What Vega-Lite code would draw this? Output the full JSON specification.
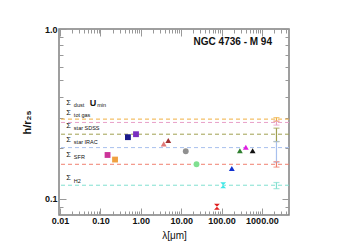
{
  "$schema": "https://vega.github.io/schema/vega-lite/v6.json",
  "width": 230,
  "height": 186,
  "autosize": "none",
  "padding": {"left": 59, "top": 29, "right": 58, "bottom": 30},
  "background": "white",
  "config": {
    "view": {"stroke": "#808080", "strokeWidth": 1.5},
    "font": "Liberation Sans",
    "axis": {
      "domain": false,
      "grid": false,
      "tickColor": "#999999",
      "tickWidth": 1,
      "labelFont": "Liberation Sans",
      "labelFontWeight": "bold",
      "labelFontSize": 9,
      "labelColor": "#111111",
      "labelOverlap": false,
      "labelFlush": false,
      "labelBound": false,
      "titleFont": "Liberation Sans",
      "titleColor": "#111111"
    }
  },
  "datasets": {
    "points": [
      {"band": "FUV", "inst": "galex", "lambda": 0.15, "h": 0.1815},
      {"band": "NUV", "inst": "galex", "lambda": 0.23, "h": 0.1706},
      {"band": "g", "inst": "sdss", "lambda": 0.48, "h": 0.231},
      {"band": "r", "inst": "sdss", "lambda": 0.76, "h": 0.2405},
      {"band": "I3.6", "inst": "irac", "lambda": 3.7, "h": 0.211},
      {"band": "I4.5", "inst": "irac", "lambda": 4.8, "h": 0.221},
      {"band": "W12", "inst": "wise", "lambda": 13, "h": 0.191},
      {"band": "M24", "inst": "wise", "lambda": 24, "h": 0.160},
      {"band": "P70", "inst": "pacs", "lambda": 77, "h": 0.090},
      {"band": "P100", "inst": "pacs", "lambda": 110, "h": 0.1205},
      {"band": "P160", "inst": "spire", "lambda": 180, "h": 0.151},
      {"band": "S250", "inst": "spire", "lambda": 285, "h": 0.192},
      {"band": "S350", "inst": "spire", "lambda": 400, "h": 0.2015},
      {"band": "S500", "inst": "spire", "lambda": 590, "h": 0.192}
    ],
    "tracers": [
      {"band": "dust", "h": 0.295, "lo": 0.286, "hi": 0.301, "lambda": 2300},
      {"band": "totgas", "h": 0.282, "lo": 0.272, "hi": 0.288, "lambda": 2300},
      {"band": "starSDSS", "h": 0.2405, "lo": 0.2175, "hi": 0.261, "lambda": 2300},
      {"band": "starIRAC", "h": 0.2006, "lo": 0.164, "hi": 0.218, "lambda": 2300},
      {"band": "SFR", "h": 0.160, "lo": 0.154, "hi": 0.166, "lambda": 2300},
      {"band": "H2", "h": 0.1205, "lo": 0.115, "hi": 0.125, "lambda": 2300}
    ],
    "labels": [
      {"main": "Σ", "sub": "dust", "lambda": 0.0143, "h": 0.368},
      {"main": "U", "sub": "min", "lambda": 0.054, "h": 0.368},
      {"main": "Σ", "sub": "tot gas", "lambda": 0.0143, "h": 0.322},
      {"main": "Σ", "sub": "star SDSS", "lambda": 0.0143, "h": 0.269},
      {"main": "Σ", "sub": "star IRAC", "lambda": 0.0143, "h": 0.223},
      {"main": "Σ", "sub": "SFR", "lambda": 0.0143, "h": 0.1817},
      {"main": "Σ", "sub": "H2", "lambda": 0.0143, "h": 0.1324}
    ],
    "title": [
      {"text": "NGC 4736 - M 94", "lambda": 1780, "h": 0.834}
    ]
  },
  "layer": [
    {
      "data": {"name": "tracers"},
      "mark": {"type": "rule", "strokeDash": [4, 3], "strokeWidth": 1},
      "encoding": {
        "y": {"field": "h", "type": "quantitative",
          "scale": {"type": "log", "domain": [0.0805, 1.0], "nice": false},
          "axis": {"orient": "right", "labels": false, "title": null,
            "values": [0.09, 0.1, 0.2, 0.3, 0.4, 0.5, 0.6, 0.7, 0.8, 0.9, 1.0],
            "tickSize": {"condition": {"test": "abs(log(datum.value)/LN10 - round(log(datum.value)/LN10)) < 0.001", "value": -7}, "value": -4}}},
        "color": {"field": "band", "type": "nominal", "legend": null,
          "scale": {
            "domain": ["FUV", "NUV", "g", "r", "I3.6", "I4.5", "W12", "M24", "P70", "P100", "P160", "S250", "S350", "S500", "dust", "totgas", "starSDSS", "starIRAC", "SFR", "H2"],
            "range": ["#cc3399", "#f0a040", "#1a1a8c", "#7a30c0", "#e07878", "#a03030", "#909090", "#80e090", "#e02020", "#40e8e8", "#1030d0", "#308030", "#e020e0", "#101010", "#f0b040", "#e8a0c8", "#a0a050", "#a8c0ee", "#f08070", "#80e0d0"]
          }}
      }
    },
    {
      "data": {"name": "tracers"},
      "mark": {"type": "errorbar", "ticks": {"size": 6}, "thickness": 1.2},
      "encoding": {
        "x": {"field": "lambda", "type": "quantitative",
          "scale": {"type": "log", "domain": [0.0094, 4700], "nice": false},
          "axis": {"orient": "top", "labels": false, "title": null,
            "values": [0.01, 0.02, 0.03, 0.04, 0.05, 0.06, 0.07, 0.08, 0.09, 0.1, 0.2, 0.3, 0.4, 0.5, 0.6, 0.7, 0.8, 0.9, 1, 2, 3, 4, 5, 6, 7, 8, 9, 10, 20, 30, 40, 50, 60, 70, 80, 90, 100, 200, 300, 400, 500, 600, 700, 800, 900, 1000, 2000, 3000, 4000],
            "tickSize": {"condition": {"test": "abs(log(datum.value)/LN10 - round(log(datum.value)/LN10)) < 0.001", "value": -7}, "value": -4}}},
        "y": {"field": "lo", "type": "quantitative", "axis": null},
        "y2": {"field": "hi"},
        "color": {"field": "band", "type": "nominal", "legend": null}
      }
    },
    {
      "data": {"name": "points"},
      "mark": {"type": "point", "filled": true, "size": 34, "opacity": 1},
      "encoding": {
        "x": {"field": "lambda", "type": "quantitative",
          "scale": {"type": "log", "domain": [0.0094, 4700], "nice": false},
          "axis": {"orient": "bottom", "title": "λ[μm]", "titleFontSize": 10, "titleFontWeight": "normal", "titlePadding": 2,
            "values": [0.01, 0.02, 0.03, 0.04, 0.05, 0.06, 0.07, 0.08, 0.09, 0.1, 0.2, 0.3, 0.4, 0.5, 0.6, 0.7, 0.8, 0.9, 1, 2, 3, 4, 5, 6, 7, 8, 9, 10, 20, 30, 40, 50, 60, 70, 80, 90, 100, 200, 300, 400, 500, 600, 700, 800, 900, 1000, 2000, 3000, 4000],
            "labelExpr": "abs(log(datum.value)/LN10 - round(log(datum.value)/LN10)) < 0.001 ? format(datum.value, '.2f') : ''",
            "labelPadding": 8,
            "tickSize": {"condition": {"test": "abs(log(datum.value)/LN10 - round(log(datum.value)/LN10)) < 0.001", "value": -7}, "value": -4}}},
        "y": {"field": "h", "type": "quantitative",
          "scale": {"type": "log", "domain": [0.0805, 1.0], "nice": false},
          "axis": {"orient": "left", "title": "h/r₂₅", "titleFontSize": 11, "titleFontWeight": "bold", "titlePadding": 12,
            "values": [0.09, 0.1, 0.2, 0.3, 0.4, 0.5, 0.6, 0.7, 0.8, 0.9, 1.0],
            "labelExpr": "abs(log(datum.value)/LN10 - round(log(datum.value)/LN10)) < 0.001 ? format(datum.value, '.1f') : ''",
            "labelPadding": 9,
            "tickSize": {"condition": {"test": "abs(log(datum.value)/LN10 - round(log(datum.value)/LN10)) < 0.001", "value": -7}, "value": -4}}},
        "color": {"field": "band", "type": "nominal", "legend": null},
        "shape": {"field": "inst", "type": "nominal", "legend": null,
          "scale": {"domain": ["galex", "sdss", "irac", "wise", "pacs", "spire"],
            "range": ["square", "square", "triangle-up", "circle", "M-1,-1L1,-1L-1,1L1,1Z", "triangle-up"]}}
      }
    },
    {
      "data": {"name": "labels"},
      "mark": {"type": "text", "align": "left", "baseline": "middle", "fontSize": {"expr": "datum.main === 'U' ? 9 : 7.5"}, "fontWeight": {"expr": "datum.main === 'U' ? 'bold' : 'normal'"}, "color": "#111111"},
      "encoding": {
        "x": {"field": "lambda", "type": "quantitative", "axis": null},
        "y": {"field": "h", "type": "quantitative", "axis": null},
        "text": {"field": "main"}
      }
    },
    {
      "data": {"name": "labels"},
      "mark": {"type": "text", "align": "left", "baseline": "middle", "fontSize": 5.5, "dx": 7.5, "dy": 2.5, "color": "#111111"},
      "encoding": {
        "x": {"field": "lambda", "type": "quantitative", "axis": null},
        "y": {"field": "h", "type": "quantitative", "axis": null},
        "text": {"field": "sub"}
      }
    },
    {
      "data": {"name": "title"},
      "mark": {"type": "text", "align": "right", "baseline": "middle", "fontSize": 10, "fontWeight": "bold", "color": "#111111"},
      "encoding": {
        "x": {"field": "lambda", "type": "quantitative", "axis": null},
        "y": {"field": "h", "type": "quantitative", "axis": null},
        "text": {"field": "text"}
      }
    }
  ],
  "resolve": {"axis": {"x": "independent", "y": "independent"}}
}
